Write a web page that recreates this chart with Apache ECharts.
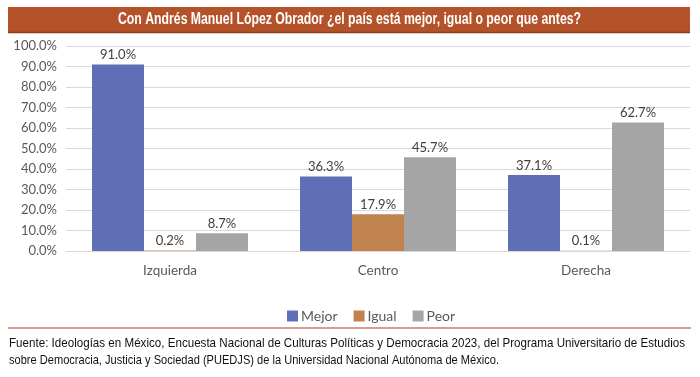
<!DOCTYPE html>
<html>
<head>
<meta charset="utf-8">
<script src="https://cdn.jsdelivr.net/npm/echarts@6/dist/echarts.min.js"></script>
<style>
  html, body { margin: 0; padding: 0; background: #fff; }
  #chart { width: 700px; height: 377px; }
</style>
</head>
<body>
<div id="chart"></div>
<script>
// values (percent)
const categories = ['Izquierda', 'Centro', 'Derecha'];
const mejor = [91.0, 36.3, 37.1];
const igual = [0.2, 17.9, 0.1];
const peor = [8.7, 45.7, 62.7];

const titleText = 'Con Andrés Manuel López Obrador ¿el país está mejor, igual o peor que antes?';
const sourceLines = [
    'Fuente: Ideologías en México, Encuesta Nacional de Culturas Políticas y Democracia 2023, del Programa Universitario de Estudios',
    'sobre Democracia, Justicia y Sociedad (PUEDJS) de la Universidad Nacional Autónoma de México.'
];

const bodyFont = "Lato, 'Open Sans', sans-serif";
const titleFont = "bold 16px 'Liberation Sans', sans-serif";
const noteFont = "13.5px 'Liberation Sans', sans-serif";
const brick = '#B4532A';

// squeeze the regular fonts to look like the narrow ones in the picture
let measureCtx = document.createElement('canvas').getContext('2d');
let textWidth = (txt, font) => {
    measureCtx.font = font;
    return measureCtx.measureText(txt).width;
};
let titleScale = 463 / textWidth(titleText, titleFont);
let noteScale1 = 676 / textWidth(sourceLines[0], noteFont);
let noteScale2 = 490 / textWidth(sourceLines[1], noteFont);

let chart = echarts.init(document.getElementById('chart'));

let labelStyle = {
    show: true,
    position: 'top',
    distance: 3,
    color: '#404040',
    fontSize: 13,
    fontFamily: bodyFont,
    formatter: (p) => p.value.toFixed(1) + '%'
};

function barSeries(name, data, color) {
    return {
        name: name,
        type: 'bar',
        data: data,
        barGap: '0%',
        barCategoryGap: '25%',
        itemStyle: { color: color },
        label: labelStyle
    };
}

chart.setOption({
    animation: false,
    textStyle: { fontFamily: bodyFont },
    grid: { left: 66, right: 10, top: 46, bottom: 126 },
    legend: {
        left: 282,
        top: 304,
        itemWidth: 11,
        itemHeight: 11,
        itemGap: 16,
        icon: 'rect',
        textStyle: { color: '#595959', fontSize: 14, fontFamily: bodyFont, padding: [0, 0, 0, -2] },
        data: ['Mejor', 'Igual', 'Peor']
    },
    xAxis: {
        type: 'category',
        data: categories,
        axisLine: { lineStyle: { color: '#d9d9d9' } },
        axisTick: { show: false },
        axisLabel: { color: '#595959', fontSize: 13.5, margin: 13 }
    },
    yAxis: {
        type: 'value',
        min: 0,
        max: 100,
        interval: 10,
        axisLabel: {
            color: '#595959',
            fontSize: 13,
            margin: 9,
            formatter: (v) => v.toFixed(1) + '%'
        },
        splitLine: { lineStyle: { color: '#d9d9d9' } }
    },
    series: [
        barSeries('Mejor', mejor, '#5E6FB6'),
        barSeries('Igual', igual, '#C0834F'),
        barSeries('Peor', peor, '#A5A5A5')
    ],
    graphic: [
        {
            type: 'rect',
            shape: { x: 8, y: 7, width: 682, height: 26 },
            style: { fill: brick }
        },
        {
            type: 'line',
            shape: { x1: 8, y1: 32.5, x2: 690, y2: 32.5 },
            style: { stroke: '#8E3A1C', lineWidth: 1.5 }
        },
        {
            type: 'text',
            x: 349.5,
            y: 20,
            scaleX: titleScale,
            style: {
                text: titleText,
                fill: '#fff',
                font: titleFont,
                align: 'center',
                verticalAlign: 'middle'
            }
        },
        {
            type: 'line',
            shape: { x1: 8, y1: 328, x2: 691, y2: 328 },
            style: { stroke: '#B03A22', lineWidth: 1.2 }
        },
        {
            type: 'text',
            x: 9,
            y: 343,
            scaleX: noteScale1,
            style: {
                text: sourceLines[0],
                fill: '#111',
                font: noteFont,
                verticalAlign: 'middle'
            }
        },
        {
            type: 'text',
            x: 9,
            y: 360,
            scaleX: noteScale2,
            style: {
                text: sourceLines[1],
                fill: '#111',
                font: noteFont,
                verticalAlign: 'middle'
            }
        }
    ]
});
</script>
</body>
</html>
